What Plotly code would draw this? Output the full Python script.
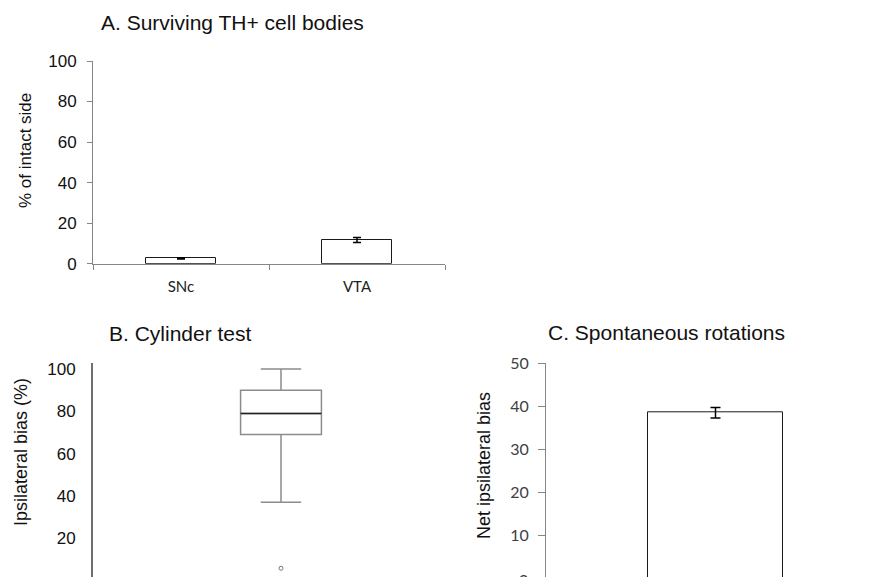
import plotly.graph_objects as go

W, H = 886, 577

# ---- data ----
a_categories = ["SNc", "VTA"]
a_values = [2.6, 11.7]
a_errors = [0.3, 1.2]
a_yticks = [0, 20, 40, 60, 80, 100]

b_q1 = 69
b_median = 79
b_q3 = 90
b_lower = 37
b_upper = 100
b_outliers = [5.7]
b_yticks = [20, 40, 60, 80, 100]

c_categories = ["rotations"]
c_values = [38.5]
c_errors = [1.2]
c_yticks = [0, 10, 20, 30, 40, 50]

titles = ["A. Surviving TH+ cell bodies", "B. Cylinder test", "C. Spontaneous rotations"]
ytitles = ["% of intact side", "Ipsilateral bias (%)", "Net ipsilateral bias"]


def px(x):
    return x / W


def py(y):
    return (H - y) / H


ARIAL = "Liberation Sans, Arial, sans-serif"
CAL = "Lato, Carlito, Calibri, sans-serif"
GRAY = "#868686"

fig = go.Figure()

# Panel A bars
fig.add_trace(go.Bar(
    x=a_categories, y=a_values, width=0.4,
    marker=dict(color="white", line=dict(color="#1a1a1a", width=1)),
    error_y=dict(type="data", array=a_errors, color="black", thickness=1.5, width=4),
    xaxis="x", yaxis="y", showlegend=False,
))

# Panel B box
box_x = 0.5
box_w = 0.215
fig.add_trace(go.Box(
    x=[box_x], q1=[b_q1], median=[b_median], q3=[b_q3],
    lowerfence=[b_lower], upperfence=[b_upper],
    width=box_w, whiskerwidth=0.5, boxpoints=False,
    fillcolor="white", line=dict(color="#8c8c8c", width=1.5),
    xaxis="x2", yaxis="y2", showlegend=False,
))
fig.add_trace(go.Scatter(
    x=[box_x - box_w / 2, box_x + box_w / 2], y=[b_median, b_median],
    mode="lines", line=dict(color="#222222", width=1.6),
    xaxis="x2", yaxis="y2", showlegend=False, hoverinfo="skip",
))
fig.add_trace(go.Scatter(
    x=[box_x] * len(b_outliers), y=b_outliers, mode="markers",
    marker=dict(symbol="circle-open", size=4, color="#777777", line=dict(width=1)),
    xaxis="x2", yaxis="y2", showlegend=False,
))

# Panel C bar
fig.add_trace(go.Bar(
    x=c_categories, y=c_values, width=0.4,
    marker=dict(color="white", line=dict(color="#1a1a1a", width=1)),
    error_y=dict(type="data", array=c_errors, color="black", thickness=1.5, width=5),
    xaxis="x3", yaxis="y3", showlegend=False,
))

fig.update_layout(
    width=W, height=H,
    margin=dict(l=0, r=0, t=0, b=0, autoexpand=False),
    paper_bgcolor="white", plot_bgcolor="white",
    showlegend=False,
    bargap=0,
    # Panel A
    xaxis=dict(
        domain=[px(93), px(445)], type="category", range=[-0.5, 1.5],
        tickson="boundaries", ticks="outside", ticklen=5, tickcolor=GRAY,
        ticklabelstandoff=9,
        showline=True, linecolor=GRAY, linewidth=1, showgrid=False, zeroline=False,
        tickfont=dict(family=CAL, size=15, color="#222222"), anchor="y",
        automargin=False,
    ),
    yaxis=dict(
        domain=[py(263.7), py(61)], range=[0, 100], tickvals=a_yticks,
        ticks="outside", ticklen=5, tickcolor=GRAY, ticklabelstandoff=7,
        showline=True, linecolor=GRAY, linewidth=1, showgrid=False, zeroline=False,
        tickfont=dict(family=ARIAL, size=17, color="#111111"), anchor="x",
        automargin=False,
    ),
    # Panel B
    xaxis2=dict(domain=[px(93), px(469)], range=[0, 1], visible=False, anchor="y2",
                automargin=False),
    yaxis2=dict(
        domain=[0, py(363)], range=[1.56, 102.9], tickvals=b_yticks,
        ticks="", ticklabelstandoff=12,
        showline=True, linecolor="#6e6e6e", linewidth=2,
        showgrid=False, zeroline=False,
        tickfont=dict(family=ARIAL, size=17, color="#111111"), anchor="x2",
        automargin=False,
    ),
    # Panel C
    xaxis3=dict(domain=[px(546), px(885)], type="category", range=[-0.5, 0.5],
                visible=False, anchor="y3", automargin=False),
    yaxis3=dict(
        domain=[0, py(363.3)], range=[0.3, 50], tickvals=c_yticks,
        ticks="outside", ticklen=7, tickcolor=GRAY, ticklabelstandoff=6,
        showline=True, linecolor=GRAY, linewidth=1, showgrid=False, zeroline=False,
        tickfont=dict(family=CAL, size=16, color="#404040"), anchor="x3",
        automargin=False,
    ),
)

annotations = [
    dict(text=titles[0], x=px(99), y=py(23), xanchor="left", yanchor="middle",
         font=dict(family=ARIAL, size=21, color="#111111")),
    dict(text=titles[1], x=px(107), y=py(333), xanchor="left", yanchor="middle",
         font=dict(family=ARIAL, size=21, color="#111111")),
    dict(text=titles[2], x=px(546), y=py(332), xanchor="left", yanchor="middle",
         font=dict(family=ARIAL, size=21, color="#111111")),
    dict(text=ytitles[0], x=px(25), y=py(151), xanchor="center", yanchor="middle",
         textangle=-90, font=dict(family=ARIAL, size=17, color="#111111")),
    dict(text=ytitles[1], x=px(21), y=py(452), xanchor="center", yanchor="middle",
         textangle=-90, font=dict(family=ARIAL, size=18, color="#111111")),
    dict(text=ytitles[2], x=px(484), y=py(466), xanchor="center", yanchor="middle",
         textangle=-90, font=dict(family=ARIAL, size=18, color="#111111")),
    # partially cropped "0" tick label of panel C (cropped in the reference too)
    dict(text=str(c_yticks[0]), x=px(530), y=py(579), xanchor="right", yanchor="middle",
         font=dict(family=CAL, size=16, color="#404040")),
]
for a in annotations:
    a.update(xref="paper", yref="paper", showarrow=False)
fig.update_layout(annotations=annotations)

fig.write_html(
    "out.html",
    config={"displayModeBar": False},
    post_script="document.body.style.margin='0';document.body.style.overflow='hidden';",
)
